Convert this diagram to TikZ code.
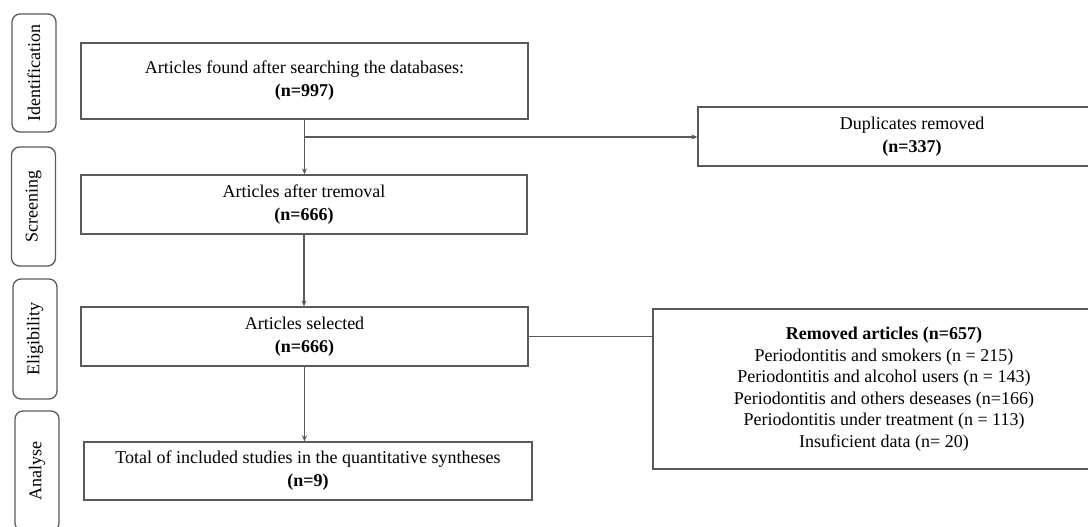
\documentclass[tikz,border=0pt]{standalone}
\usepackage{fontspec}
\setmainfont{Liberation Serif}
\usepackage{tikz}
\usetikzlibrary{positioning,arrows.meta}
\definecolor{linegrey}{RGB}{90,90,90}
\tikzset{
  stagebox/.style={draw=linegrey, line width=1.3pt, rounded corners=8pt, rotate=90,
                   minimum height=44pt, inner sep=0pt, font=\fontsize{18}{22}\selectfont},
  flowbox/.style ={draw=linegrey, line width=1.3pt, align=center, inner sep=0pt,
                   font=\fontsize{18}{23}\selectfont},
  ar/.style      ={-{Stealth[length=6pt,width=5pt]}, draw=linegrey, line width=1.1pt},
  ln/.style      ={draw=linegrey, line width=1.1pt},
}
\begin{document}
\begin{tikzpicture}[x=1pt,y=-1pt]
\useasboundingbox (0,0) rectangle (1088,527);
% stage labels
\node[stagebox, minimum width=118pt] (ident)  at (34,73)     {Identification};
\node[stagebox, minimum width=119pt] (screen) at (33.5,206.5) {Screening};
\node[stagebox, minimum width=120pt] (elig)   at (35,339)    {Eligibility};
\node[stagebox, minimum width=120pt] (anal)   at (37,471)    {Analyse};

% main flow
\node[flowbox, minimum width=447pt, minimum height=76pt] (found) at (304.5,81)
  {Articles found after searching the databases:\\\textbf{(n=997)}};
\node[flowbox, minimum width=446pt, minimum height=59pt] (after) at (304,204.5)
  {Articles after tremoval\\\textbf{(n=666)}};
\node[flowbox, minimum width=447pt, minimum height=59pt] (selected) at (304.5,336.5)
  {Articles selected\\\textbf{(n=666)}};
\node[flowbox, minimum width=448pt, minimum height=58pt] (total) at (308,471)
  {Total of included studies in the quantitative syntheses\\\textbf{(n=9)}};

% side boxes
\node[flowbox, minimum width=428pt, minimum height=59pt] (dupl) at (912,136.5)
  {Duplicates removed\\\textbf{(n=337)}};
\node[flowbox, minimum width=462pt, minimum height=160pt,
      font=\fontsize{18}{21.5}\selectfont] (removed) at (884,389)
  {\textbf{Removed articles (n=657)}\\
   Periodontitis and smokers (n = 215)\\
   Periodontitis and alcohol users (n = 143)\\
   Periodontitis and others deseases (n=166)\\
   Periodontitis under treatment (n = 113)\\
   Insuficient data (n= 20)};

% connectors
\coordinate (split) at (304,137);
\draw[ar] (found.south) -- (found.south |- after.north);
\draw[ar] (split) -- (split -| dupl.west);
\draw[ar] (after.south) -- (after.south |- selected.north);
\draw[ar] (selected.south) -- (selected.south |- total.north);
\draw[ln] (selected.east) -- (selected.east -| removed.west);
\end{tikzpicture}
\end{document}
